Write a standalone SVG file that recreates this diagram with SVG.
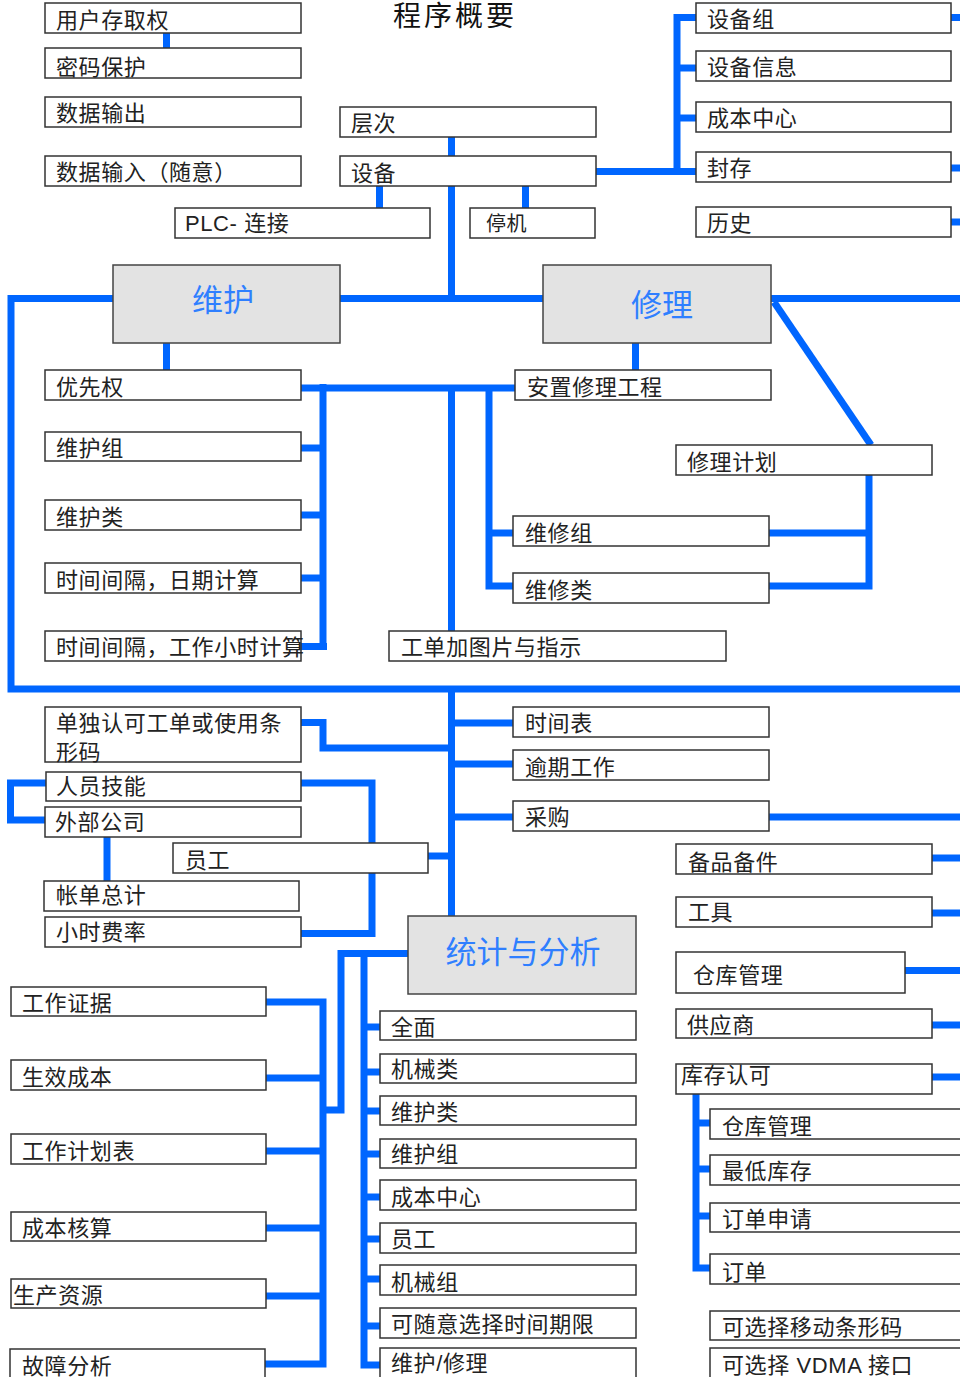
<svg xmlns="http://www.w3.org/2000/svg" width="960" height="1377" viewBox="0 0 960 1377">
<style>
.b{fill:#fff;stroke:#333;stroke-width:1.5}
.g{fill:#e3e3e3;stroke:#444;stroke-width:1.5}
text{font-family:"Liberation Sans","Noto Sans CJK SC",sans-serif;font-size:22px;fill:#222;letter-spacing:0.6px}
.big{font-size:31px;fill:#2f7fff;text-anchor:middle;letter-spacing:0}
.ttl{font-size:28px;fill:#111;letter-spacing:3px}
#conn path,#conn line{stroke:#0066ff;stroke-width:7;fill:none;stroke-linejoin:miter}
</style>
<rect width="960" height="1377" fill="#fff"/>
<g id="conn">
<line x1="166.5" y1="33" x2="166.5" y2="48"/>
<line x1="451.5" y1="137" x2="451.5" y2="298.5"/>
<line x1="379.5" y1="186" x2="379.5" y2="208"/>
<line x1="525.5" y1="186" x2="525.5" y2="208"/>
<path d="M596,171.5 H696"/>
<path d="M696,17.5 H677 V171.5"/>
<line x1="677" y1="68" x2="696" y2="68"/>
<line x1="677" y1="118" x2="696" y2="118"/>
<line x1="951" y1="17.5" x2="960" y2="17.5"/>
<line x1="951" y1="168" x2="960" y2="168"/>
<line x1="951" y1="222" x2="960" y2="222"/>
<path d="M960,298.5 H11 V689 H960"/>
<line x1="166.5" y1="343" x2="166.5" y2="370"/>
<line x1="635.5" y1="343" x2="635.5" y2="370"/>
<path d="M301,388 H515"/>
<line x1="323" y1="384" x2="323" y2="650"/>
<line x1="301" y1="448" x2="323" y2="448"/>
<line x1="301" y1="515" x2="323" y2="515"/>
<line x1="301" y1="578" x2="323" y2="578"/>
<line x1="301" y1="646.5" x2="327" y2="646.5"/>
<line x1="451.5" y1="388" x2="451.5" y2="631"/>
<path d="M489,388 V586 H513"/>
<line x1="489" y1="533" x2="513" y2="533"/>
<line x1="774" y1="302" x2="871" y2="445"/>
<path d="M769,586 H869 V475"/>
<line x1="769" y1="533" x2="869" y2="533"/>
<line x1="451.5" y1="689" x2="451.5" y2="916"/>
<path d="M301,722.5 H323 V748 H451"/>
<line x1="451" y1="723" x2="513" y2="723"/>
<line x1="451" y1="764" x2="513" y2="764"/>
<line x1="451" y1="817" x2="513" y2="817"/>
<line x1="769" y1="817" x2="960" y2="817"/>
<line x1="428" y1="856" x2="451" y2="856"/>
<path d="M301,783 H372 V933.5 H301"/>
<path d="M46,783 H10.5 V820 H45"/>
<line x1="107" y1="837" x2="107" y2="881"/>
<line x1="932" y1="858" x2="960" y2="858"/>
<line x1="932" y1="913" x2="960" y2="913"/>
<line x1="905" y1="970.5" x2="960" y2="970.5"/>
<line x1="932" y1="1025" x2="960" y2="1025"/>
<line x1="932" y1="1077" x2="960" y2="1077"/>
<path d="M696,1094 V1268 H710"/>
<line x1="696" y1="1123" x2="710" y2="1123"/>
<line x1="696" y1="1169" x2="710" y2="1169"/>
<line x1="696" y1="1216" x2="710" y2="1216"/>
<path d="M408,953.5 H341 V1110 H323"/>
<path d="M266,1002 H323 V1364 H265"/>
<line x1="266" y1="1078" x2="323" y2="1078"/>
<line x1="266" y1="1151" x2="323" y2="1151"/>
<line x1="266" y1="1228" x2="323" y2="1228"/>
<line x1="266" y1="1296" x2="323" y2="1296"/>
<path d="M364,953.5 V1365 H380"/>
<line x1="364" y1="1027" x2="380" y2="1027"/>
<line x1="364" y1="1072" x2="380" y2="1072"/>
<line x1="364" y1="1111" x2="380" y2="1111"/>
<line x1="364" y1="1154" x2="380" y2="1154"/>
<line x1="364" y1="1197" x2="380" y2="1197"/>
<line x1="364" y1="1239" x2="380" y2="1239"/>
<line x1="364" y1="1279" x2="380" y2="1279"/>
<line x1="364" y1="1326" x2="380" y2="1326"/>
</g>
<g id="title"><text class="ttl" x="393" y="26">程序概要</text></g>
<g id="n1"><rect class="b" x="45" y="3" width="256" height="30"/><text x="56" y="28">用户存取权</text></g>
<g id="n2"><rect class="b" x="45" y="48" width="256" height="30"/><text x="56" y="75">密码保护</text></g>
<g id="n3"><rect class="b" x="45" y="97" width="256" height="30"/><text x="56" y="121">数据输出</text></g>
<g id="n4"><rect class="b" x="45" y="156" width="256" height="30"/><text x="56" y="180">数据输入（随意）</text></g>
<g id="n5"><rect class="b" x="340" y="107" width="256" height="30"/><text x="351" y="131">层次</text></g>
<g id="n6"><rect class="b" x="340" y="156" width="256" height="30"/><text x="351" y="181">设备</text></g>
<g id="n7"><rect class="b" x="175" y="208" width="255" height="30"/><text x="185" y="231">PLC- 连接</text></g>
<g id="n8"><rect class="b" x="470" y="208" width="125" height="30"/><text x="486" y="231" style="font-size:20px">停机</text></g>
<g id="n9"><rect class="b" x="696" y="3" width="255" height="30"/><text x="707" y="27">设备组</text></g>
<g id="n10"><rect class="b" x="696" y="51" width="255" height="30"/><text x="707" y="75">设备信息</text></g>
<g id="n11"><rect class="b" x="696" y="102" width="255" height="30"/><text x="707" y="126">成本中心</text></g>
<g id="n12"><rect class="b" x="696" y="152" width="255" height="30"/><text x="707" y="176">封存</text></g>
<g id="n13"><rect class="b" x="696" y="207" width="255" height="30"/><text x="707" y="231">历史</text></g>
<g id="n14"><rect class="g" x="113" y="265" width="227" height="78"/><text class="big" x="223" y="311">维护</text></g>
<g id="n15"><rect class="g" x="543" y="265" width="228" height="78"/><text class="big" x="662" y="316">修理</text></g>
<g id="n16"><rect class="b" x="45" y="370" width="256" height="30"/><text x="56" y="395">优先权</text></g>
<g id="n17"><rect class="b" x="45" y="432" width="256" height="29"/><text x="56" y="456">维护组</text></g>
<g id="n18"><rect class="b" x="45" y="500" width="256" height="30"/><text x="56" y="525">维护类</text></g>
<g id="n19"><rect class="b" x="45" y="563" width="256" height="30"/><text x="56" y="588">时间间隔，日期计算</text></g>
<g id="n20"><rect class="b" x="45" y="631" width="256" height="30"/><text x="56" y="655">时间间隔，工作小时计算</text></g>
<g id="n21"><rect class="b" x="515" y="370" width="256" height="30"/><text x="527" y="395">安置修理工程</text></g>
<g id="n22"><rect class="b" x="676" y="445" width="256" height="30"/><text x="687" y="470">修理计划</text></g>
<g id="n23"><rect class="b" x="513" y="516" width="256" height="30"/><text x="525" y="541">维修组</text></g>
<g id="n24"><rect class="b" x="513" y="573" width="256" height="30"/><text x="525" y="598">维修类</text></g>
<g id="n25"><rect class="b" x="389" y="631" width="337" height="30"/><text x="401" y="655">工单加图片与指示</text></g>
<g id="n26"><rect class="b" x="45" y="707" width="256" height="55"/><text x="56" y="731">单独认可工单或使用条</text><text x="56" y="760">形码</text></g>
<g id="n27"><rect class="b" x="46" y="772" width="255" height="29"/><text x="56" y="794">人员技能</text></g>
<g id="n28"><rect class="b" x="45" y="807" width="256" height="30"/><text x="55" y="830">外部公司</text></g>
<g id="n29"><rect class="b" x="173" y="843" width="255" height="30"/><text x="185" y="868">员工</text></g>
<g id="n30"><rect class="b" x="44" y="881" width="255" height="30"/><text x="56" y="903">帐单总计</text></g>
<g id="n31"><rect class="b" x="45" y="917" width="256" height="30"/><text x="56" y="940">小时费率</text></g>
<g id="n32"><rect class="b" x="513" y="707" width="256" height="30"/><text x="525" y="731">时间表</text></g>
<g id="n33"><rect class="b" x="513" y="750" width="256" height="30"/><text x="525" y="775">逾期工作</text></g>
<g id="n34"><rect class="b" x="513" y="801" width="256" height="30"/><text x="525" y="825">采购</text></g>
<g id="n35"><rect class="b" x="676" y="844" width="256" height="30"/><text x="688" y="870">备品备件</text></g>
<g id="n36"><rect class="b" x="676" y="897" width="256" height="30"/><text x="688" y="920">工具</text></g>
<g id="n37"><rect class="b" x="676" y="952" width="229" height="41"/><text x="693" y="983">仓库管理</text></g>
<g id="n38"><rect class="g" x="408" y="916" width="228" height="78"/><text class="big" x="523" y="963">统计与分析</text></g>
<g id="n39"><rect class="b" x="11" y="987" width="255" height="29"/><text x="22" y="1011">工作证据</text></g>
<g id="n40"><rect class="b" x="11" y="1060" width="255" height="30"/><text x="22" y="1085">生效成本</text></g>
<g id="n41"><rect class="b" x="11" y="1134" width="255" height="30"/><text x="22" y="1159">工作计划表</text></g>
<g id="n42"><rect class="b" x="11" y="1212" width="255" height="29"/><text x="22" y="1236">成本核算</text></g>
<g id="n43"><rect class="b" x="11" y="1279" width="255" height="29"/><text x="13" y="1303">生产资源</text></g>
<g id="n44"><rect class="b" x="10" y="1349" width="255" height="40"/><text x="22" y="1374">故障分析</text></g>
<g id="n45"><rect class="b" x="380" y="1011" width="256" height="29"/><text x="391" y="1035">全面</text></g>
<g id="n46"><rect class="b" x="380" y="1054" width="256" height="29"/><text x="391" y="1077">机械类</text></g>
<g id="n47"><rect class="b" x="380" y="1096" width="256" height="29"/><text x="391" y="1120">维护类</text></g>
<g id="n48"><rect class="b" x="380" y="1139" width="256" height="29"/><text x="391" y="1162">维护组</text></g>
<g id="n49"><rect class="b" x="380" y="1180" width="256" height="30"/><text x="391" y="1205">成本中心</text></g>
<g id="n50"><rect class="b" x="380" y="1223" width="256" height="30"/><text x="391" y="1247">员工</text></g>
<g id="n51"><rect class="b" x="380" y="1265" width="256" height="30"/><text x="391" y="1290">机械组</text></g>
<g id="n52"><rect class="b" x="380" y="1308" width="256" height="30"/><text x="391" y="1332">可随意选择时间期限</text></g>
<g id="n53"><rect class="b" x="380" y="1348" width="256" height="40"/><text x="391" y="1371">维护/修理</text></g>
<g id="n54"><rect class="b" x="676" y="1009" width="256" height="29"/><text x="687" y="1033">供应商</text></g>
<g id="n55"><rect class="b" x="676" y="1064" width="256" height="30"/><text x="681" y="1083">库存认可</text></g>
<g id="n56"><rect class="b" x="710" y="1109" width="260" height="30"/><text x="722" y="1134">仓库管理</text></g>
<g id="n57"><rect class="b" x="710" y="1155" width="260" height="30"/><text x="722" y="1179">最低库存</text></g>
<g id="n58"><rect class="b" x="710" y="1203" width="260" height="29"/><text x="722" y="1227">订单申请</text></g>
<g id="n59"><rect class="b" x="710" y="1254" width="260" height="30"/><text x="722" y="1280">订单</text></g>
<g id="n60"><rect class="b" x="710" y="1311" width="260" height="29"/><text x="722" y="1335">可选择移动条形码</text></g>
<g id="n61"><rect class="b" x="710" y="1348" width="260" height="40"/><text x="722" y="1373">可选择 VDMA 接口</text></g>
</svg>
